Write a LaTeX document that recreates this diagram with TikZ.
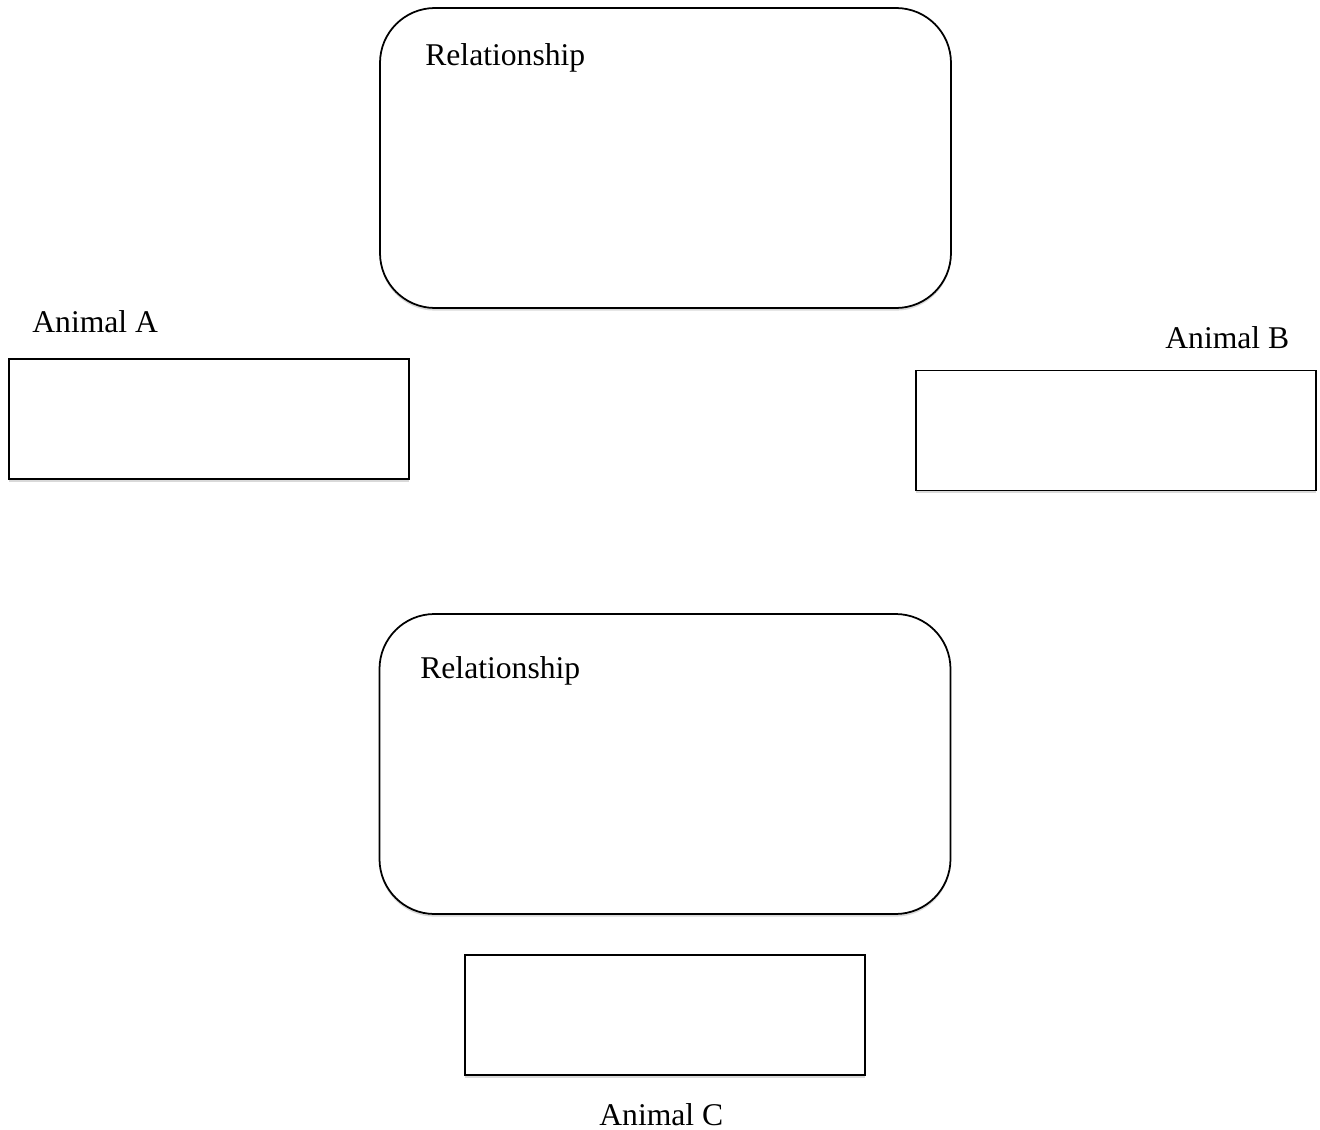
\documentclass[tikz,border=0pt]{standalone}
\usepackage{fontspec}
\setmainfont{Liberation Serif}
\usepackage{tikz}
\usetikzlibrary{shadows}
\tikzset{
  /tikz/.cd,
  animalbox/.style={draw,line width=1pt,fill=white,minimum width=8cm,minimum height=2.4cm,
    drop shadow={shadow xshift=0pt,shadow yshift=-1.5pt,opacity=.3}}
}

\begin{document}
\begin{tikzpicture}[relbox/.style={draw,line width=1pt,fill=white,rounded corners=1.1cm,
                        minimum width=11.42cm,minimum height=6cm,
                        drop shadow={shadow xshift=0pt,shadow yshift=-1.5pt,opacity=.3}},
                    caption/.style={inner sep=0pt,font=\fontsize{18}{22}\selectfont}]
      \useasboundingbox (0,0) rectangle (26.4,-22.6);

      \node[relbox] (relAB) at (13.31,-3.16) {};
      \node[caption,anchor=base west] (relABtext) at (8.5,-1.3) {Relationship};

      \node[relbox] (relC) at (13.3,-15.28) {};
      \node[caption,anchor=base west] (relCtext) at (8.4,-13.56) {Relationship};

      \node[caption,anchor=base west] (labelA) at (0.64,-6.64) {Animal A};
      \node[animalbox] (boxA) at (4.18,-8.38) {};

      \node[caption,anchor=base west] (labelB) at (23.3,-6.96) {Animal B};
      \node[animalbox] (boxB) at (22.32,-8.61) {};

      \node[animalbox] (boxC) at (13.3,-20.3) {};
      \node[caption,anchor=base west] (labelC) at (11.98,-22.5) {Animal C};
    \end{tikzpicture}
\end{document}
